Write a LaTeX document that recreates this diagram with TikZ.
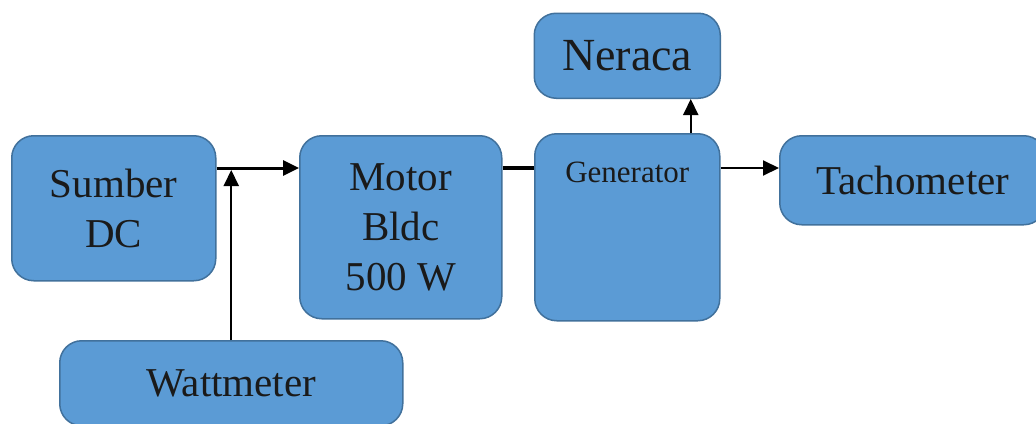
\documentclass[tikz,border=0pt]{standalone}
\usepackage{fontspec}
\setmainfont{Liberation Serif}
\usetikzlibrary{positioning,arrows.meta}
\definecolor{boxfill}{HTML}{5B9BD5}
\definecolor{boxline}{HTML}{41719C}
\definecolor{inkcolor}{HTML}{1A1A1A}
\tikzset{
  blk/.style={draw=boxline, line width=1.5pt, fill=boxfill, rounded corners=22pt, align=center, text=inkcolor, font=\fontsize{41}{50}\selectfont, inner sep=0pt, anchor=north west},
  flow/.style={-{Triangle[length=16pt,width=15pt]}, line width=2pt, draw=black},
  link/.style={line width=4pt, draw=black},
}
\begin{document}
\begin{tikzpicture}[x=1pt,y=-1pt]
\useasboundingbox[fill=white] (0,0) rectangle (1036,423);
\node[blk, minimum width=204pt, minimum height=145pt] (src) at (11,135) {Sumber\\DC};
\node[blk, minimum width=202pt, minimum height=183pt] (motor) at (299,135) {Motor\\Bldc\\500 W};
\node[blk, minimum width=185pt, font=\fontsize{31}{36}\selectfont, text height=49pt, text depth=138pt] (gen) at (534,133) {Generator};
\node[blk, minimum width=186pt, minimum height=85pt, font=\fontsize{46}{52}\selectfont, above=34pt of gen] (neraca) {Neraca};
\node[blk, minimum width=266pt, minimum height=89pt] (tacho) at (779,135) {Tachometer};
\node[blk, minimum width=343pt, minimum height=85pt] (watt) at (59,340) {Wattmeter};
\coordinate (bus) at (0,168);
% daya masuk ke motor
\draw[flow, line width=3pt] (src.east |- bus) -- (motor.west |- bus);
\draw[flow] (watt.north) -- ([yshift=-2pt]watt.north |- bus);
% poros motor - generator
\draw[link] (motor.east |- bus) -- (gen.west |- bus);
\draw[flow] (gen.east |- bus) -- (tacho.west |- bus);
\draw[flow] ([xshift=63.5pt]gen.north) -- ([xshift=63.5pt]neraca.south);
\end{tikzpicture}
\end{document}
